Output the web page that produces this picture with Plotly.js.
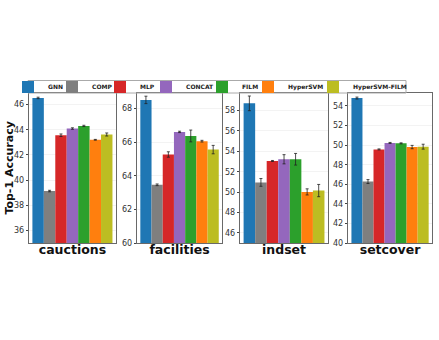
<!DOCTYPE html>
<html>
<head>
<meta charset="utf-8">
<script src="https://cdn.plot.ly/plotly-3.0.1.min.js"></script>
<style>html,body{margin:0;padding:0;background:#fff}</style>
</head>
<body>
<div id="grafico" style="width:439px;height:340px"></div>
<script>
const metodos = ['GNN', 'COMP', 'MLP', 'CONCAT', 'FILM', 'HyperSVM', 'HyperSVM-FILM'];
const cores = ['#1f77b4', '#7f7f7f', '#d62728', '#9467bd', '#2ca02c', '#ff7f0e', '#bcbd22'];
const problemas = ['cauctions', 'facilities', 'indset', 'setcover'];

const cauctions = [46.52, 39.13, 43.56, 44.09, 44.3, 43.2, 43.62];
const cauctionsErr = [0.06, 0.06, 0.1, 0.06, 0.05, 0.03, 0.12];
const facilities = [68.5, 63.46, 65.26, 66.6, 66.36, 66.05, 65.55];
const facilitiesErr = [0.22, 0.05, 0.16, 0.04, 0.35, 0.05, 0.25];
const indset = [58.7, 50.95, 53.05, 53.22, 53.22, 50.02, 50.15];
const indsetErr = [0.72, 0.38, 0.05, 0.45, 0.57, 0.3, 0.6];
const setcover = [54.8, 46.28, 49.56, 50.22, 50.18, 49.8, 49.84];
const setcoverErr = [0.1, 0.2, 0.05, 0.05, 0.05, 0.17, 0.25];

const valores = [cauctions, facilities, indset, setcover];
const erros = [cauctionsErr, facilitiesErr, indsetErr, setcoverErr];
const faixas = [[35, 46.9], [60, 68.9], [45, 59.7], [40, 55.3]];
const dominios = [[0.066, 0.264], [0.312, 0.506], [0.547, 0.747], [0.793, 0.984]];
// where each legend label starts, in px
const legendaTexto = [48, 92, 140, 186, 242, 288, 353];

const W = 439, H = 340;
const traces = [];
problemas.forEach((p, k) => {
  const sufixo = k === 0 ? '' : String(k + 1);
  metodos.forEach((m, i) => {
    traces.push({
      type: 'bar',
      x: [i],
      y: [valores[k][i]],
      width: 1,
      name: m,
      legendgroup: m,
      legend: i === 0 ? 'legend' : 'legend' + (i + 1),
      showlegend: k === 0,
      marker: { color: cores[i], line: { width: 0 } },
      error_y: { type: 'data', array: [erros[k][i]], color: '#222', thickness: 0.8, width: 1.5 },
      xaxis: 'x' + sufixo,
      yaxis: 'y' + sufixo
    });
  });
});

const layout = {
  width: W,
  height: H,
  margin: { l: 0, r: 0, t: 0, b: 0 },
  paper_bgcolor: 'white',
  plot_bgcolor: 'white',
  font: { family: 'DejaVu Sans', color: '#222' },
  showlegend: true,
  shapes: [{
    type: 'rect', xref: 'paper', yref: 'paper',
    x0: 28 / W, x1: 406 / W, y0: 1 - 93 / H, y1: 1 - 80.5 / H,
    line: { color: '#aaaaaa', width: 1 }, fillcolor: 'rgba(0,0,0,0)', layer: 'above'
  }],
  annotations: [{
    text: '<b>Top-1 Accuracy</b>',
    xref: 'paper', yref: 'paper',
    x: 0.022, y: 0.506, xanchor: 'center', yanchor: 'middle', textangle: -90,
    showarrow: false,
    font: { size: 11, family: 'DejaVu Sans', color: '#111' }
  }]
};

metodos.forEach((m, i) => {
  const chave = i === 0 ? 'legend' : 'legend' + (i + 1);
  layout[chave] = {
    x: (legendaTexto[i] - 40) / W, xanchor: 'left',
    y: 1 - 87 / H, yanchor: 'middle',
    font: { size: 6, family: 'DejaVu Sans', weight: 'bold', color: '#222' },
    borderwidth: 0,
    itemwidth: 30,
    bgcolor: 'rgba(0,0,0,0)'
  };
});

problemas.forEach((p, k) => {
  const sufixo = k === 0 ? '' : String(k + 1);
  layout['xaxis' + sufixo] = {
    domain: dominios[k],
    anchor: 'y' + sufixo,
    range: [-0.8, 6.8],
    showticklabels: false,
    ticks: '',
    showgrid: false,
    zeroline: false,
    showline: true, mirror: true, linecolor: '#444', linewidth: 0.8,
    title: { text: '<b>' + p + '</b>', font: { size: 12.5, family: 'DejaVu Sans', color: '#111' }, standoff: 2 }
  };
  layout['yaxis' + sufixo] = {
    domain: [0.285, 0.726],
    anchor: 'x' + sufixo,
    range: faixas[k],
    dtick: 2,
    ticks: 'outside', ticklen: 2.5, tickcolor: '#444',
    tickfont: { size: 8, color: '#333' },
    showgrid: true, gridcolor: '#ebebeb', gridwidth: 0.6,
    zeroline: false,
    showline: true, mirror: true, linecolor: '#444', linewidth: 0.8
  };
});

Plotly.newPlot('grafico', traces, layout, { displayModeBar: false, staticPlot: true });
</script>
</body>
</html>
